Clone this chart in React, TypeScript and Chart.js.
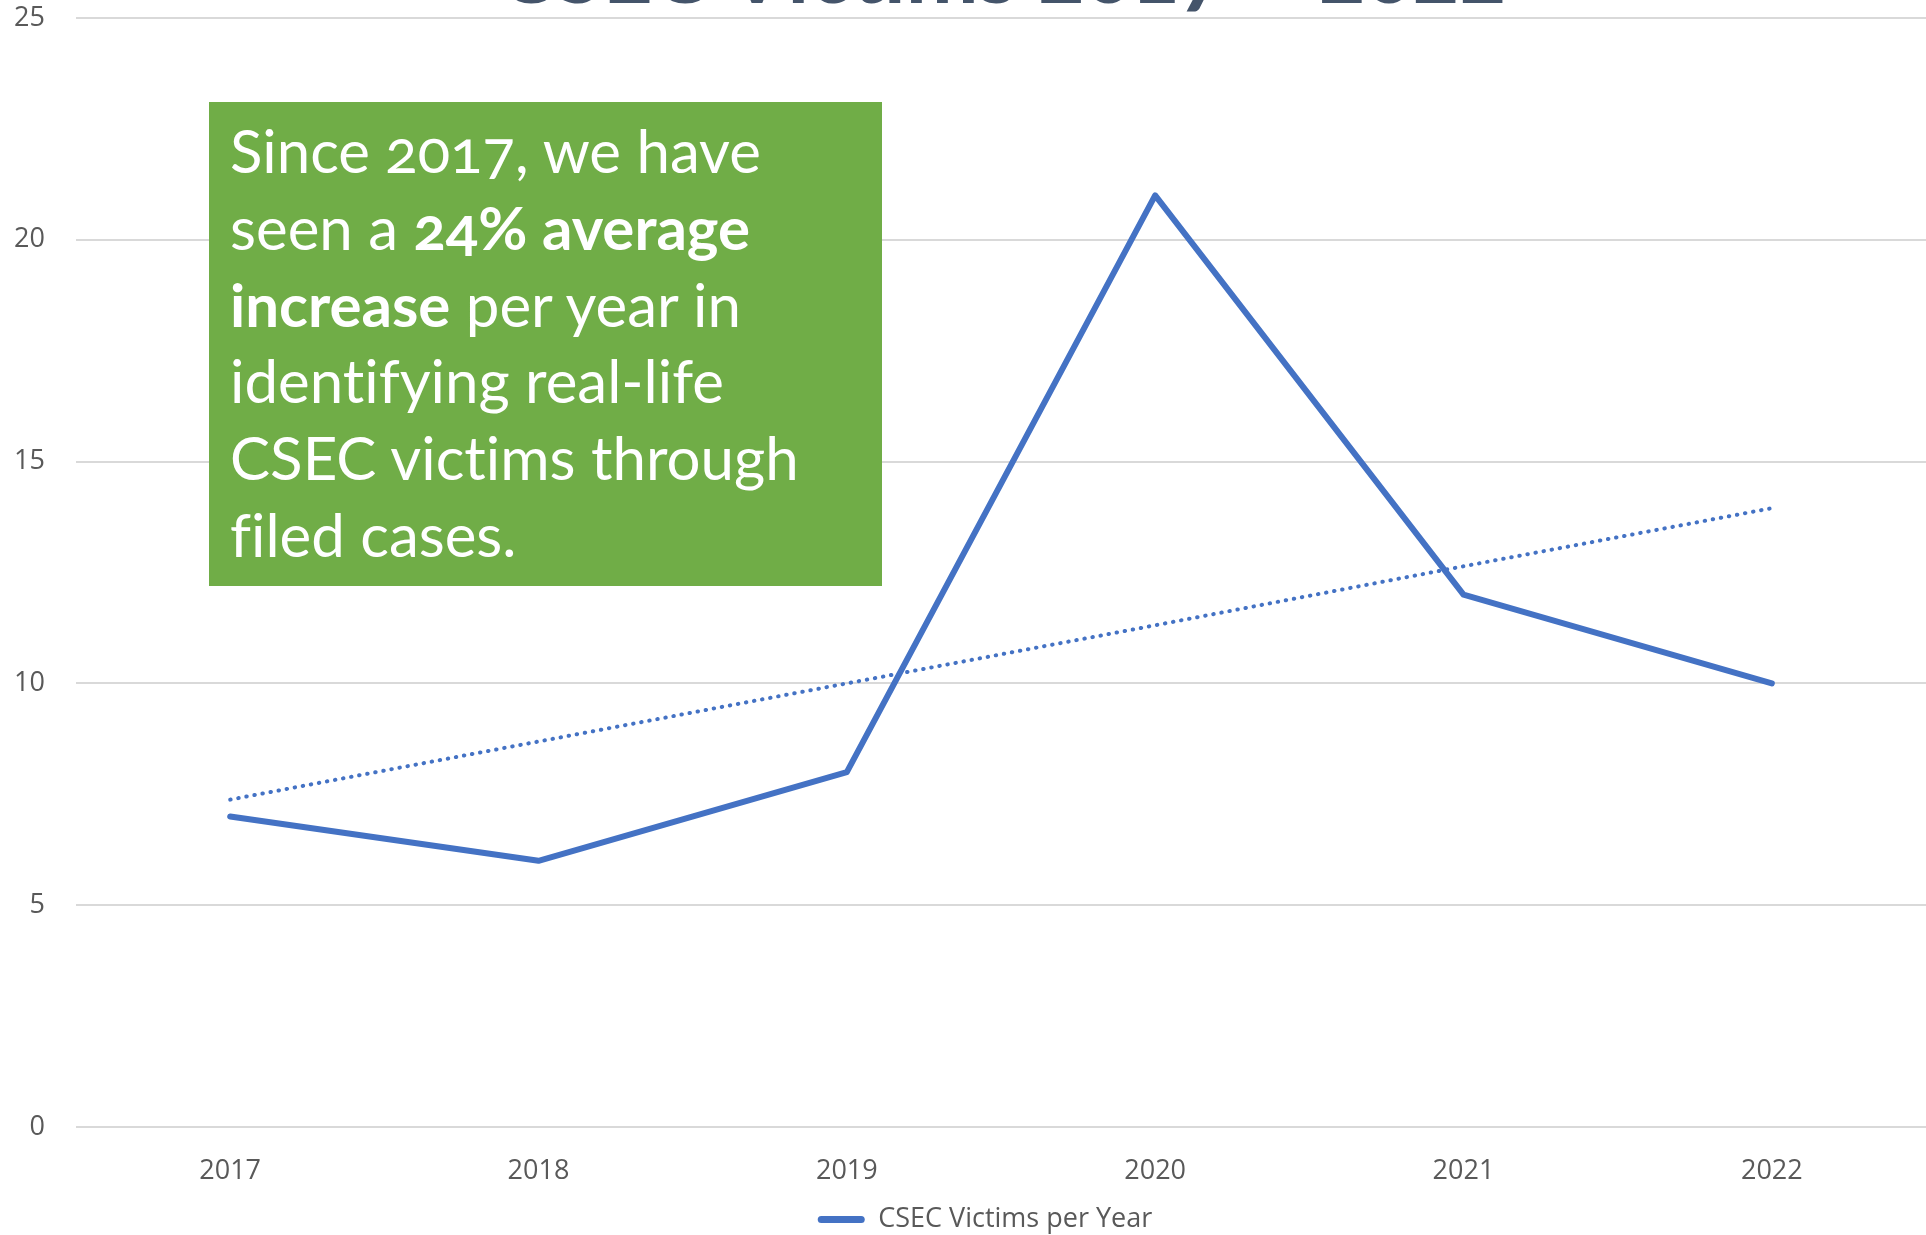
import React, { useEffect, useRef } from "react";
import { Chart, registerables } from "chart.js";

Chart.register(...registerables);

const years = ["2017", "2018", "2019", "2020", "2021", "2022"];
const victims = [7, 6, 8, 21, 12, 10];
const trendValues = [7.38, 8.69, 10.0, 11.31, 12.64, 13.95];
const seriesName = "CSEC Victims per Year";
const titleText = "CSEC Victims 2017 – 2022";

const BLUE = "#4472C4";
const GRID = "#D9D9D9";
const LABEL = "#595959";

const legendShift = {
  id: "legendShift",
  afterLayout(chart: any) {
    const l = chart.legend;
    if (l) {
      l.left += 17;
      l.right += 17;
      l.top += 8;
      l.bottom += 8;
    }
  },
};

export default function App() {
  const canvasRef = useRef<HTMLCanvasElement | null>(null);

  useEffect(() => {
    document.body.style.margin = "0";
    const canvas = canvasRef.current;
    if (!canvas) return;
    const chart = new Chart(canvas, {
      type: "line",
      data: {
        labels: years,
        datasets: [
          {
            label: "Linear (" + seriesName + ")",
            data: trendValues,
            borderColor: BLUE,
            backgroundColor: BLUE,
            borderWidth: 4,
            borderDash: [0.5, 7.7],
            borderCapStyle: "round",
            pointRadius: 0,
            tension: 0,
            fill: false,
          },
          {
            label: seriesName,
            data: victims,
            borderColor: BLUE,
            backgroundColor: BLUE,
            borderWidth: 6,
            borderCapStyle: "round",
            borderJoinStyle: "round",
            pointRadius: 0,
            tension: 0,
            fill: false,
          },
        ],
      },
      plugins: [legendShift],
      options: {
        animation: false,
        responsive: false,
        layout: { padding: { left: 10, right: 0, top: 18, bottom: 0 } },
        plugins: {
          title: { display: false },
          tooltip: { enabled: false },
          legend: {
            position: "bottom",
            labels: {
              color: LABEL,
              font: { family: "'Open Sans'", size: 27 },
              padding: 10,
              boxWidth: 47,
              boxHeight: 7,
              filter: (item: any) => item.text === seriesName,
              generateLabels: (chart: any) => {
                const items = Chart.defaults.plugins.legend.labels.generateLabels(chart);
                return items.map((it: any) => ({
                  ...it,
                  fillStyle: BLUE,
                  strokeStyle: BLUE,
                  lineWidth: 0,
                  lineDash: [],
                  borderRadius: 3.5,
                }));
              },
            },
          },
        },
        scales: {
          x: {
            offset: true,
            grid: { display: false, drawTicks: false },
            border: { display: false },
            ticks: {
              color: LABEL,
              font: { family: "'Open Sans'", size: 27 },
              padding: 28,
              maxRotation: 0,
            },
            afterFit: (scale: any) => {
              scale.height = 61;
            },
          },
          y: {
            min: 0,
            max: 25,
            grid: { color: GRID, lineWidth: 2, drawTicks: false },
            border: { display: false },
            ticks: {
              stepSize: 5,
              color: LABEL,
              font: { family: "'Open Sans'", size: 27 },
              padding: 31,
            },
            afterFit: (scale: any) => {
              scale.width = 66;
              scale.paddingTop = 0;
              scale.paddingBottom = 0;
            },
          },
        },
      },
    });
    return () => chart.destroy();
  }, []);

  return (
    <div
      style={{
        position: "fixed",
        left: 0,
        top: 0,
        width: 1926,
        height: 1235,
        overflow: "hidden",
        background: "#ffffff",
      }}
    >
      <canvas ref={canvasRef} width={1926} height={1235} style={{ display: "block", width: 1926, height: 1235 }} />
      <div
        style={{
          position: "absolute",
          left: 1002,
          top: -74,
          transform: "translateX(-50%)",
          whiteSpace: "nowrap",
          fontFamily: "Lato, 'Open Sans', sans-serif",
          fontWeight: 700,
          fontSize: 87,
          lineHeight: "87px",
          color: "#44546A",
          fontVariantNumeric: "oldstyle-nums",
          fontVariantLigatures: "none",
        }}
      >
        {titleText}
      </div>
      <div
        style={{
          position: "absolute",
          left: 209,
          top: 102,
          width: 673,
          height: 484,
          boxSizing: "border-box",
          background: "#70AD47",
          color: "#ffffff",
          fontFamily: "Lato, 'Open Sans', sans-serif",
          fontSize: 60,
          lineHeight: "76.8px",
          paddingLeft: 21,
          paddingTop: 10,
          whiteSpace: "nowrap",
          fontVariantNumeric: "oldstyle-nums",
          fontVariantLigatures: "none",
        }}
      >
        Since 2017, we have
        <br />
        seen a <b>24% average</b>
        <br />
        <b>increase</b> per year in
        <br />
        identifying real-life
        <br />
        CSEC victims through
        <br />
        filed cases.
      </div>
    </div>
  );
}
